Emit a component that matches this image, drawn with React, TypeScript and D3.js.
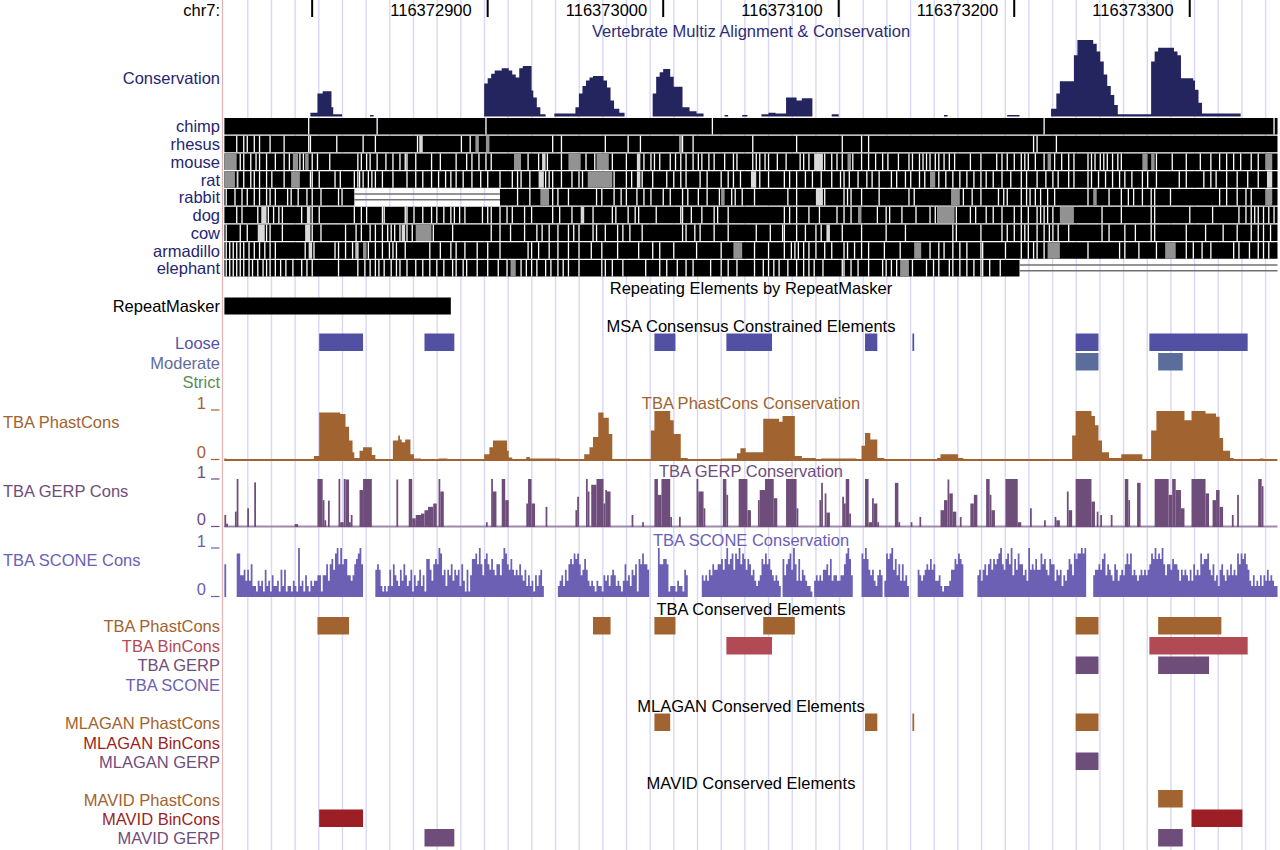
import * as d3 from "d3";
import { useEffect, useRef } from "react";

type Seg = [number, number, number];

const chromName = "chr7";
const winStart = 116372750;
const winEnd = 116373350;
const rulerTicks = [116372800, 116372900, 116373000, 116373100, 116373200, 116373300];

// Multiz conservation, [startOffset, endOffset, score] relative to winStart
const multizCons: Seg[] = [
  [49, 53, 0.05], [53, 56, 0.3], [56, 61, 0.33], [61, 62, 0.12], [62, 67, 0.03],
  [83, 85, 0.02],
  [148, 150, 0.43], [150, 152, 0.5], [152, 154, 0.56], [154, 158, 0.6], [158, 162, 0.63], [162, 164, 0.6],
  [164, 166, 0.55], [166, 168, 0.51], [168, 170, 0.63], [170, 175, 0.66], [175, 176, 0.34], [176, 178, 0.25],
  [178, 180, 0.12], [180, 183, 0.03],
  [188, 200, 0.04], [200, 202, 0.12], [202, 204, 0.3], [204, 206, 0.4], [206, 208, 0.47], [208, 210, 0.51],
  [210, 216, 0.53], [216, 218, 0.47], [218, 220, 0.38], [220, 222, 0.21], [222, 225, 0.1], [225, 228, 0.05],
  [244, 246, 0.3], [246, 248, 0.52], [248, 250, 0.58], [250, 254, 0.62], [254, 256, 0.52], [256, 261, 0.39],
  [261, 265, 0.12], [265, 269, 0.07], [269, 273, 0.04],
  [285, 287, 0.02], [295, 298, 0.02], [306, 310, 0.03], [310, 314, 0.05], [314, 320, 0.04], [320, 326, 0.25],
  [326, 329, 0.21], [329, 335, 0.24],
  [346, 350, 0.03], [410, 412, 0.02], [446, 453, 0.02],
  [471, 474, 0.1], [474, 476, 0.3], [476, 484, 0.46], [484, 486, 0.8], [486, 495, 1.0], [495, 497, 0.95],
  [497, 499, 0.85], [499, 501, 0.72], [501, 503, 0.55], [503, 505, 0.4], [505, 507, 0.28], [507, 509, 0.15],
  [509, 528, 0.03], [528, 530, 0.72], [530, 532, 0.85], [532, 541, 0.9], [541, 543, 0.85], [543, 545, 0.8],
  [545, 552, 0.5], [552, 553, 0.47], [553, 555, 0.35], [555, 557, 0.18], [557, 579, 0.04],
];

// pairwise alignment rows: white break offsets, shaded spans [start, end, 1=gray 2=light], unaligned spans
const chimpBreaks = [48, 87, 149, 278, 467, 598];
const rhesusBreaks = [7, 11, 13, 17, 20, 26, 34, 48, 49, 64, 79, 86, 110, 135, 140, 187, 192, 217, 230, 237, 261, 267, 301, 326, 352, 363, 367, 461, 463, 474];
const rhesusShades: Seg[] = [[111, 113, 2], [143, 145, 1], [149, 151, 1], [259, 261, 1]];
const mouseBreaks = [9, 11, 15, 18, 20, 24, 29, 34, 37, 43, 45, 50, 53, 60, 76, 78, 81, 83, 87, 92, 96, 100, 103, 104, 109, 118, 123, 132, 138, 141, 145, 149, 152, 173, 179, 184, 192, 206, 211, 221, 229, 239, 243, 245, 248, 254, 257, 260, 263, 267, 270, 272, 276, 279, 285, 290, 292, 301, 303, 305, 308, 310, 315, 320, 328, 330, 333, 342, 346, 349, 352, 358, 363, 367, 371, 375, 378, 384, 390, 392, 396, 398, 400, 402, 405, 407, 410, 413, 416, 425, 431, 440, 443, 446, 450, 454, 456, 458, 462, 467, 473, 477, 481, 484, 492, 494, 496, 499, 501, 503, 506, 509, 511, 531, 540, 548, 556, 562, 567, 571, 575, 579, 585, 589];
const mouseShades: Seg[] = [[0, 7, 1], [39, 42, 1], [46, 48, 1], [165, 169, 1], [181, 183, 2], [196, 203, 1], [212, 219, 1], [235, 237, 2], [336, 341, 2], [355, 357, 1], [469, 471, 1], [523, 526, 1], [528, 530, 1], [593, 597, 1]];
const ratBreaks = [11, 15, 17, 20, 24, 27, 34, 49, 50, 54, 63, 66, 74, 76, 77, 79, 82, 84, 86, 90, 96, 104, 109, 113, 118, 122, 126, 129, 132, 136, 141, 146, 150, 157, 164, 167, 169, 174, 183, 185, 187, 192, 198, 202, 204, 222, 229, 232, 238, 244, 252, 256, 260, 263, 271, 275, 283, 287, 290, 294, 305, 310, 319, 322, 326, 331, 335, 340, 346, 351, 353, 356, 361, 366, 369, 373, 380, 383, 388, 391, 396, 399, 407, 411, 415, 419, 423, 427, 431, 434, 438, 443, 448, 454, 457, 463, 468, 472, 475, 481, 484, 492, 494, 498, 502, 506, 510, 513, 517, 523, 526, 531, 544, 548, 558, 562, 565, 571, 577, 583, 589];
const ratShades: Seg[] = [[0, 6, 1], [7, 8, 2], [38, 43, 1], [179, 182, 2], [207, 221, 1], [235, 237, 2], [300, 303, 2], [402, 405, 1], [594, 597, 2]];
const rabbitBreaks = [1, 6, 10, 13, 17, 20, 24, 26, 29, 36, 38, 42, 47, 50, 55, 65, 67, 167, 174, 187, 190, 196, 212, 215, 222, 226, 229, 235, 239, 243, 250, 254, 261, 264, 270, 275, 282, 289, 291, 295, 302, 321, 326, 342, 353, 355, 357, 363, 373, 390, 393, 421, 426, 431, 441, 444, 446, 454, 457, 459, 462, 465, 469, 473, 492, 504, 511, 515, 518, 523, 528, 530, 539, 567, 571, 577, 582, 585];
const rabbitShades: Seg[] = [[180, 185, 1], [283, 285, 1], [337, 341, 2], [414, 419, 1], [495, 497, 1], [593, 597, 1]];
const dogBreaks = [7, 10, 19, 25, 28, 31, 33, 44, 50, 54, 74, 78, 81, 90, 91, 103, 104, 108, 113, 118, 121, 125, 129, 131, 134, 137, 147, 150, 152, 157, 161, 164, 171, 175, 187, 191, 198, 210, 221, 223, 230, 234, 236, 246, 260, 261, 266, 272, 279, 281, 287, 319, 322, 326, 333, 339, 349, 353, 357, 372, 377, 379, 386, 394, 402, 405, 417, 425, 428, 434, 438, 443, 450, 454, 458, 463, 465, 467, 469, 472, 500, 511, 528, 530, 550, 563, 578, 582, 585, 587, 589, 592, 595, 598];
const dogShades: Seg[] = [[21, 24, 2], [47, 49, 2], [203, 205, 2], [361, 363, 1], [406, 416, 1], [476, 484, 1]];
const cowBreaks = [1, 9, 13, 24, 26, 33, 50, 55, 69, 75, 78, 83, 86, 90, 93, 95, 97, 100, 104, 107, 119, 130, 152, 157, 163, 171, 178, 181, 185, 190, 196, 199, 202, 210, 212, 217, 224, 227, 231, 238, 261, 263, 268, 271, 279, 287, 303, 311, 318, 319, 326, 331, 337, 340, 352, 363, 377, 388, 415, 417, 431, 443, 446, 450, 454, 456, 458, 463, 467, 470, 472, 475, 481, 500, 504, 513, 519, 528, 530, 548, 559, 569, 577, 585, 589, 592, 596];
const cowShades: Seg[] = [[19, 23, 2], [46, 49, 2], [101, 103, 2], [109, 118, 1], [343, 345, 2]];
const armadilloBreaks = [1, 3, 5, 7, 9, 11, 14, 17, 20, 23, 26, 29, 46, 51, 63, 65, 69, 73, 75, 76, 82, 86, 90, 94, 96, 98, 103, 117, 123, 129, 132, 137, 144, 150, 157, 173, 175, 179, 185, 190, 196, 202, 209, 215, 224, 236, 244, 248, 256, 269, 283, 302, 310, 319, 323, 325, 327, 330, 333, 337, 342, 346, 353, 355, 359, 363, 367, 376, 385, 402, 407, 410, 415, 419, 423, 431, 432, 445, 454, 458, 461, 463, 467, 492, 510, 513, 521, 531, 548, 552, 557, 562, 575, 578, 584, 589, 592, 595];
const armadilloShades: Seg[] = [[48, 50, 2], [79, 81, 1], [290, 295, 1], [393, 397, 1], [469, 476, 1], [536, 542, 1]];
const elephantBreaks = [1, 3, 5, 7, 9, 11, 14, 16, 19, 22, 24, 26, 29, 32, 35, 39, 44, 47, 50, 65, 76, 80, 83, 86, 88, 91, 95, 98, 100, 104, 109, 113, 117, 121, 125, 130, 132, 136, 138, 144, 150, 156, 161, 169, 172, 175, 178, 183, 186, 190, 193, 196, 202, 215, 217, 221, 227, 240, 248, 252, 258, 263, 267, 277, 283, 287, 292, 302, 307, 310, 313, 316, 321, 326, 330, 333, 336, 341, 352, 353, 357, 361, 367, 375, 377, 380, 383, 392, 400, 404, 407, 413, 415, 419, 423, 427, 431, 432, 436, 442];
const elephantShades: Seg[] = [[163, 166, 1], [385, 390, 1]];
const rabbitUnaligned: [number, number][] = [[74, 157]];
const elephantUnaligned: [number, number][] = [[453, 600]];

const repeatMasker: [number, number][] = [[116372750, 116372879]];
const msaLoose: [number, number][] = [[116372804, 116372829], [116372864, 116372881], [116372995, 116373007], [116373036, 116373062], [116373115, 116373122], [116373142, 116373143], [116373235, 116373248], [116373277, 116373333]];
const msaModerate: [number, number][] = [[116373235, 116373248], [116373282, 116373296]];
const msaStrict: [number, number][] = [];

// TBA phastCons, [startOffset, endOffset, score]
const tbaPhastCons: Seg[] = [
  [0, 1, 0.05], [6, 9, 0.04], [51, 54, 0.1], [54, 66, 0.95], [66, 69, 0.92], [69, 71, 0.67], [71, 73, 0.4],
  [73, 74, 0.17], [74, 77, 0.06], [77, 79, 0.2], [79, 84, 0.27], [84, 86, 0.12],
  [96, 99, 0.4], [99, 100, 0.5], [100, 101, 0.42], [101, 103, 0.37], [103, 106, 0.42], [106, 108, 0.13],
  [108, 112, 0.05], [122, 127, 0.05],
  [148, 151, 0.13], [151, 153, 0.27], [153, 161, 0.4], [161, 162, 0.2], [162, 164, 0.07], [172, 174, 0.08],
  [174, 191, 0.05],
  [205, 208, 0.13], [208, 210, 0.27], [210, 213, 0.47], [213, 216, 0.95], [216, 219, 0.85], [219, 221, 0.53],
  [243, 245, 0.6], [245, 254, 0.98], [254, 256, 0.8], [256, 260, 0.53], [260, 264, 0.06],
  [283, 292, 0.05], [292, 294, 0.15], [294, 297, 0.25], [297, 307, 0.17], [307, 316, 0.83], [316, 318, 0.77],
  [318, 325, 0.88], [325, 329, 0.1], [329, 337, 0.06],
  [340, 360, 0.05], [363, 365, 0.3], [365, 368, 0.55], [368, 372, 0.42], [372, 376, 0.06],
  [406, 408, 0.06], [408, 418, 0.13], [418, 421, 0.06],
  [483, 485, 0.5], [485, 494, 0.98], [494, 496, 0.88], [496, 498, 0.7], [498, 500, 0.4], [500, 504, 0.17],
  [504, 511, 0.06], [511, 523, 0.13],
  [528, 531, 0.6], [531, 547, 0.98], [547, 551, 0.8], [551, 559, 0.98], [559, 565, 0.93], [565, 567, 0.87],
  [567, 569, 0.45], [569, 573, 0.2], [573, 575, 0.06], [590, 592, 0.05],
];

// TBA GERP, [startOffset, endOffset, score]
const tbaGerp: Seg[] = [
  [0, 1, 0.25], [1, 2, 0.07], [6, 7, 0.32], [7, 8, 1.0], [13, 14, 0.39], [17, 18, 0.93], [40, 42, 0.06],
  [53, 56, 1.0], [56, 57, 0.56], [57, 58, 0.14], [59, 60, 0.55], [65, 66, 1.0], [66, 68, 0.1], [68, 69, 1.0],
  [69, 71, 0.99], [71, 72, 0.1], [72, 73, 0.25], [77, 79, 0.77], [79, 84, 1.0], [98, 99, 0.99], [105, 107, 1.0],
  [107, 109, 0.18], [109, 112, 0.25], [112, 114, 0.28], [114, 116, 0.35], [116, 119, 0.42], [119, 121, 0.49],
  [122, 123, 1.0], [123, 125, 0.74], [149, 150, 0.1], [152, 153, 1.0], [153, 155, 0.74], [158, 160, 1.0],
  [160, 162, 0.56], [172, 173, 0.49], [173, 175, 1.0], [175, 177, 0.49], [183, 184, 0.42], [200, 201, 0.35],
  [201, 202, 0.63], [206, 207, 1.0], [207, 208, 0.74], [209, 212, 0.88], [212, 216, 1.0], [216, 217, 0.49],
  [217, 218, 0.77], [218, 220, 0.74], [232, 233, 0.25],
  [238, 239, 0.1], [245, 247, 1.0], [247, 249, 0.67], [249, 254, 1.0], [254, 255, 0.21], [259, 260, 0.21],
  [269, 270, 1.0], [270, 273, 0.74], [273, 274, 0.39], [284, 286, 1.0], [286, 287, 0.67], [293, 298, 1.0],
  [298, 300, 0.35], [304, 305, 0.56], [305, 308, 0.77], [308, 313, 1.0], [313, 315, 0.6], [320, 326, 1.0],
  [326, 327, 0.39], [339, 340, 0.56], [340, 341, 0.92], [342, 343, 0.7], [343, 345, 0.3], [352, 353, 0.63],
  [353, 354, 0.49], [354, 356, 1.0], [356, 357, 0.28], [365, 367, 1.0], [367, 369, 0.1], [369, 370, 0.6],
  [370, 372, 0.49], [372, 373, 0.1], [382, 384, 0.92], [384, 385, 0.1], [391, 392, 0.1], [396, 397, 0.21],
  [408, 410, 0.35], [410, 412, 0.56], [412, 413, 0.99], [413, 415, 0.7], [415, 417, 0.32], [419, 420, 0.21],
  [425, 427, 0.49], [427, 429, 0.67], [434, 436, 1.0], [436, 437, 0.67], [437, 439, 0.35], [445, 452, 1.0],
  [452, 454, 0.1], [459, 460, 0.39], [467, 468, 0.14], [473, 474, 0.21], [474, 476, 0.14], [480, 481, 0.74],
  [481, 483, 0.35], [485, 494, 1.0], [494, 496, 0.53], [497, 498, 0.32], [499, 500, 0.25], [505, 506, 0.25],
  [513, 515, 1.0], [515, 516, 0.56], [520, 522, 0.92], [530, 538, 1.0], [538, 540, 0.67], [540, 542, 1.0],
  [542, 545, 0.77], [545, 547, 0.39], [551, 559, 1.0], [559, 561, 0.7], [563, 565, 0.56], [565, 567, 0.77],
  [567, 569, 0.42], [574, 575, 0.25], [577, 578, 0.67], [589, 591, 1.0], [591, 592, 0.85],
];

// TBA SCONE, one digit per base (0-9 -> 0..1), "." = no data; ten bases per chunk
const tbaSconeChunks = [
  "6......884", "4535362213", "2315231422", "3152512213", "2192314213", "2334414463", "6758969677", "443467896.",
  "......5652", "1212526432", "5364235142", "3524177536", "7698452546", "3545263151", "4778696478", "6575466479",
  "8657545464", "3524231424", "52........", "2342536768", "7864575323", "2132214342", "4542321363", "4254617686",
  "65.....966", "7761222132", "2154......", "..43435465", "5667579678", "5879687576", "4532347686", "7543432.74",
  "6785963735", "43221.3434", "3556473443", "34468974..", "...8797545", "32454.3878", "9574636342", ".....54345",
  "6575633421", "2223557687", "6........4", "5356467576", "7896578694", "7586645395", "6575586754", "7663545243",
  "5764878898", "9....45565", "7846543653", "4546868454", "3454545687", "9787964665", "7665354543", "5364548677",
  "8546342564", "3546454868", "7865324232", "4243534322",
];

const tbaPhastElems: [number, number][] = [[116372803, 116372821], [116372960, 116372970], [116372995, 116373007], [116373057, 116373075], [116373235, 116373248], [116373282, 116373318]];
const tbaBinConsElems: [number, number][] = [[116373036, 116373062], [116373277, 116373333]];
const tbaGerpElems: [number, number][] = [[116373235, 116373248], [116373282, 116373311]];
const tbaSconeElems: [number, number][] = [];
const mlaganPhastElems: [number, number][] = [[116372995, 116373004], [116373115, 116373122], [116373142, 116373143], [116373235, 116373248]];
const mlaganBinConsElems: [number, number][] = [];
const mlaganGerpElems: [number, number][] = [[116373235, 116373248]];
const mavidPhastElems: [number, number][] = [[116373282, 116373296]];
const mavidBinConsElems: [number, number][] = [[116372804, 116372829], [116373301, 116373330]];
const mavidGerpElems: [number, number][] = [[116372864, 116372881], [116373282, 116373296]];

export default function App() {
  const svgRef = useRef<SVGSVGElement | null>(null);

  useEffect(() => {
    if (!svgRef.current) return;
    const svg = d3.select(svgRef.current);
    svg.selectAll("*").remove();

    const width = 1280;
    const height = 850;
    const labelRight = 220;
    const midX = 751;
    const fs = 16.5;
    const font = "'Liberation Sans', Arial, Helvetica, sans-serif";

    svg.attr("viewBox", `0 0 ${width} ${height}`).attr("font-family", font);
    svg.append("rect").attr("width", width).attr("height", height).attr("fill", "#fff");

    const x = d3.scaleLinear().domain([winStart, winEnd]).range([224.4, 1277.5]);
    const xo = (o: number) => x(winStart + o);

    // light blue guidelines
    const guides = d3.range(247.8, 1278, 23.67);
    svg
      .append("g")
      .selectAll("line")
      .data(guides)
      .join("line")
      .attr("x1", (d) => d)
      .attr("x2", (d) => d)
      .attr("y1", 0)
      .attr("y2", height)
      .attr("stroke", "#d8d8f4")
      .attr("stroke-width", 1.4);

    svg
      .append("line")
      .attr("x1", 222.5)
      .attr("x2", 222.5)
      .attr("y1", 0)
      .attr("y2", height)
      .attr("stroke", "#e2b3b3")
      .attr("stroke-width", 1.2);

    const label = (text: string, y: number, color: string, left = false) =>
      svg
        .append("text")
        .attr("x", left ? 3 : labelRight)
        .attr("y", y)
        .attr("text-anchor", left ? "start" : "end")
        .attr("dominant-baseline", "central")
        .attr("font-size", fs)
        .attr("fill", color)
        .text(text);

    const title = (text: string, y: number, color: string) =>
      svg
        .append("text")
        .attr("x", midX)
        .attr("y", y)
        .attr("text-anchor", "middle")
        .attr("dominant-baseline", "central")
        .attr("font-size", fs)
        .attr("fill", color)
        .text(text);

    // wiggle scale labels: digit plus a short tick at the value line
    const scaleMark = (text: string, yLine: number, color: string) => {
      svg
        .append("text")
        .attr("x", 206)
        .attr("y", yLine - 1.5)
        .attr("text-anchor", "end")
        .attr("font-size", fs)
        .attr("fill", color)
        .text(text);
      svg
        .append("line")
        .attr("x1", 211)
        .attr("x2", 219.5)
        .attr("y1", yLine)
        .attr("y2", yLine)
        .attr("stroke", color)
        .attr("stroke-width", 1.2);
    };

    // ruler
    svg
      .append("text")
      .attr("x", labelRight)
      .attr("y", 16)
      .attr("text-anchor", "end")
      .attr("font-size", fs)
      .attr("fill", "#000")
      .text(`${chromName}:`);
    rulerTicks.forEach((t) => {
      const tx = x(t);
      svg
        .append("line")
        .attr("x1", tx)
        .attr("x2", tx)
        .attr("y1", 0)
        .attr("y2", 17)
        .attr("stroke", "#000")
        .attr("stroke-width", 2);
      if (tx - 16 - 82 > 224) {
        svg
          .append("text")
          .attr("x", tx - 16)
          .attr("y", 16)
          .attr("text-anchor", "end")
          .attr("font-size", fs)
          .attr("fill", "#000")
          .text(String(t));
      }
    });

    const stepPath = (segs: Seg[], y: d3.ScaleLinear<number, number>) => {
      const pts: { bp: number; v: number | null }[] = [];
      segs.forEach(([s, e, v], i) => {
        pts.push({ bp: s, v });
        const next = segs[i + 1];
        if (!next || next[0] !== e) {
          pts.push({ bp: e, v });
          pts.push({ bp: e, v: null });
        }
      });
      return d3
        .area<{ bp: number; v: number | null }>()
        .defined((d) => d.v !== null)
        .curve(d3.curveStepAfter)
        .x((d) => xo(d.bp))
        .y0(y(0))
        .y1((d) => Math.min(y(d.v as number), y(0) - 1.5))(pts);
    };

    // Multiz conservation
    const navyFill = "#24245f";
    const navyText = "#262670";
    title("Vertebrate Multiz Alignment & Conservation", 31, "#2d2d78");
    label("Conservation", 78, navyText);
    const yCons = d3.scaleLinear().domain([0, 1]).range([116.5, 40]);
    svg.append("path").attr("d", stepPath(multizCons, yCons) as string).attr("fill", navyFill);

    const alignRows = [
      { name: "chimp", breaks: chimpBreaks, shades: [] as Seg[], unaligned: [] as [number, number][] },
      { name: "rhesus", breaks: rhesusBreaks, shades: rhesusShades, unaligned: [] as [number, number][] },
      { name: "mouse", breaks: mouseBreaks, shades: mouseShades, unaligned: [] as [number, number][] },
      { name: "rat", breaks: ratBreaks, shades: ratShades, unaligned: [] as [number, number][] },
      { name: "rabbit", breaks: rabbitBreaks, shades: rabbitShades, unaligned: rabbitUnaligned },
      { name: "dog", breaks: dogBreaks, shades: dogShades, unaligned: [] as [number, number][] },
      { name: "cow", breaks: cowBreaks, shades: cowShades, unaligned: [] as [number, number][] },
      { name: "armadillo", breaks: armadilloBreaks, shades: armadilloShades, unaligned: [] as [number, number][] },
      { name: "elephant", breaks: elephantBreaks, shades: elephantShades, unaligned: elephantUnaligned },
    ];
    const rowTop = 118;
    const rowPitch = 17.75;
    const rowH = 16.5;
    const span = winEnd - winStart;
    alignRows.forEach((row, i) => {
      const top = rowTop + i * rowPitch;
      label(row.name, top + rowH / 2, navyText);
      const g = svg.append("g");
      const spans: [number, number][] = [];
      let cur = 0;
      row.unaligned.forEach(([s, e]) => {
        if (s > cur) spans.push([cur, s]);
        cur = e;
      });
      if (cur < span) spans.push([cur, span]);
      spans.forEach(([s, e]) =>
        g.append("rect").attr("x", xo(s)).attr("y", top).attr("width", xo(e) - xo(s)).attr("height", rowH).attr("fill", "#000")
      );
      row.shades.forEach(([s, e, k]) =>
        g
          .append("rect")
          .attr("x", xo(s))
          .attr("y", top)
          .attr("width", xo(e) - xo(s))
          .attr("height", rowH)
          .attr("fill", k === 1 ? "#929292" : "#d9d9d9")
      );
      row.breaks.forEach((b) =>
        g.append("rect").attr("x", xo(b) - 0.6).attr("y", top).attr("width", 1.3).attr("height", rowH).attr("fill", "#fff")
      );
      row.unaligned.forEach(([s, e]) => {
        [0.3, 0.65].forEach((f) =>
          g
            .append("line")
            .attr("x1", xo(s))
            .attr("x2", xo(e))
            .attr("y1", top + rowH * f)
            .attr("y2", top + rowH * f)
            .attr("stroke", "#707070")
            .attr("stroke-width", 1.6)
        );
      });
    });

    const blocks = (list: [number, number][], top: number, h: number, color: string) =>
      list.forEach(([s, e]) =>
        svg
          .append("rect")
          .attr("x", x(s))
          .attr("y", top)
          .attr("width", Math.max(1.5, x(e) - x(s)))
          .attr("height", h)
          .attr("fill", color)
      );

    // RepeatMasker
    title("Repeating Elements by RepeatMasker", 288, "#000");
    label("RepeatMasker", 306, "#000");
    blocks(repeatMasker, 297.5, 17, "#000");

    // MSA consensus
    title("MSA Consensus Constrained Elements", 326, "#000");
    label("Loose", 343, "#5652a8");
    label("Moderate", 363, "#5e6c9c");
    label("Strict", 382, "#5a8c5c");
    blocks(msaLoose, 333.5, 17.5, "#5250a3");
    blocks(msaModerate, 353, 17.5, "#5b6e9b");
    blocks(msaStrict, 372.5, 17.5, "#5a8c5c");

    // TBA PhastCons wiggle
    const brown = "#a1632f";
    title("TBA PhastCons Conservation", 403, brown);
    label("TBA PhastCons", 422, brown, true);
    scaleMark("1", 410, brown);
    scaleMark("0", 459.5, brown);
    const yPhast = d3.scaleLinear().domain([0, 1]).range([461, 410]);
    svg.append("rect").attr("x", 224.4).attr("y", 459).attr("width", 1053).attr("height", 2).attr("fill", brown);
    svg.append("path").attr("d", stepPath(tbaPhastCons, yPhast) as string).attr("fill", brown);

    // TBA GERP wiggle
    const purple = "#6f4d7b";
    title("TBA GERP Conservation", 471, purple);
    label("TBA GERP Cons", 491, purple, true);
    scaleMark("1", 479, purple);
    scaleMark("0", 526.5, purple);
    const yGerp = d3.scaleLinear().domain([0, 1]).range([527, 479]);
    svg.append("rect").attr("x", 224.4).attr("y", 525.5).attr("width", 1053).attr("height", 2).attr("fill", "#a08aab");
    svg
      .append("g")
      .selectAll("rect")
      .data(tbaGerp)
      .join("rect")
      .attr("x", (d) => xo(d[0]))
      .attr("width", (d) => xo(d[1]) - xo(d[0]))
      .attr("y", (d) => yGerp(d[2]))
      .attr("height", (d) => yGerp(0) - yGerp(d[2]))
      .attr("fill", purple);

    // TBA SCONE wiggle
    const sconeColor = "#6b60b3";
    title("TBA SCONE Conservation", 540, sconeColor);
    label("TBA SCONE Cons", 560, sconeColor, true);
    scaleMark("1", 548, sconeColor);
    scaleMark("0", 596.5, sconeColor);
    const yScone = d3.scaleLinear().domain([0, 1]).range([597, 548]);
    const sconeSegs: Seg[] = [];
    tbaSconeChunks.join("").split("").forEach((c, i) => {
      if (c !== ".") sconeSegs.push([i, i + 1, +c / 9]);
    });
    svg.append("path").attr("d", stepPath(sconeSegs, yScone) as string).attr("fill", sconeColor);

    // conserved element tracks
    const binRose = "#b24a55";
    const darkRed = "#9b1f24";
    const elemH = 17.5;
    title("TBA Conserved Elements", 609, "#000");
    label("TBA PhastCons", 626, brown);
    label("TBA BinCons", 646, binRose);
    label("TBA GERP", 665, purple);
    label("TBA SCONE", 685, sconeColor);
    blocks(tbaPhastElems, 617, elemH, brown);
    blocks(tbaBinConsElems, 637, elemH, binRose);
    blocks(tbaGerpElems, 656.5, elemH, purple);
    blocks(tbaSconeElems, 676, elemH, sconeColor);

    title("MLAGAN Conserved Elements", 706, "#000");
    label("MLAGAN PhastCons", 723, brown);
    label("MLAGAN BinCons", 743, darkRed);
    label("MLAGAN GERP", 762, purple);
    blocks(mlaganPhastElems, 713.5, elemH, brown);
    blocks(mlaganBinConsElems, 733, elemH, darkRed);
    blocks(mlaganGerpElems, 752.5, elemH, purple);

    title("MAVID Conserved Elements", 783, "#000");
    label("MAVID PhastCons", 800, brown);
    label("MAVID BinCons", 819, darkRed);
    label("MAVID GERP", 838, purple);
    blocks(mavidPhastElems, 790, elemH, brown);
    blocks(mavidBinConsElems, 809.5, elemH, darkRed);
    blocks(mavidGerpElems, 829, elemH, purple);
  }, []);

  return (
    <svg
      ref={svgRef}
      width={1280}
      height={850}
      style={{ position: "absolute", left: 0, top: 0, display: "block" }}
      aria-label="Genome browser conservation tracks"
    />
  );
}
